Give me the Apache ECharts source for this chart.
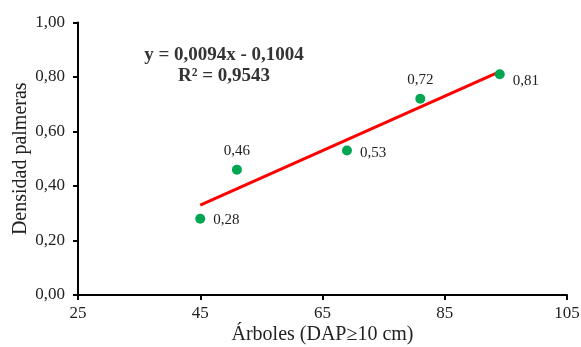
<!DOCTYPE html>
<html><head><meta charset="utf-8">
<script src="https://cdn.jsdelivr.net/npm/echarts@6/dist/echarts.min.js"></script>
<style>html,body{margin:0;padding:0;background:#fff}#c{width:581px;height:347px}</style>
</head><body><div id="c"></div>
<script>
const arboles = [45, 51, 69, 81, 94];
const densidad = [0.28, 0.46, 0.53, 0.72, 0.81];
const labelPos = ['right', 'top', 'right', 'top', 'right'];
const trendX = [45, 94];
const trendY = [0.33, 0.82];
const xTicks = [25, 45, 65, 85, 105];
const yTicks = [0, 0.2, 0.4, 0.6, 0.8, 1.0];
const eqLine1 = 'y = 0,0094x - 0,1004';
const eqLine2 = 'R² = 0,9543';

const font = '"Liberation Serif", "Times New Roman", serif';
const fmt2 = v => v.toFixed(2).replace('.', ',');
const labelOffset = [[0, 1], [0, 2], [0, 2], [0, 2], [0, 7]];

const chart = echarts.init(document.getElementById('c'));
chart.setOption({
  animation: false,
  textStyle: { fontFamily: font },
  grid: { left: 78, right: 14, top: 22.5, bottom: 52, containLabel: false, outerBoundsMode: 'none' },
  xAxis: {
    type: 'value', min: xTicks[0], max: xTicks[xTicks.length - 1], interval: 20,
    name: 'Árboles (DAP≥10 cm)', nameLocation: 'middle', nameGap: 30, nameMoveOverlap: false,
    nameTextStyle: { fontFamily: font, fontSize: 20, color: '#222' },
    axisLine: { lineStyle: { color: '#000', width: 2 } },
    axisTick: { show: true, length: 5, lineStyle: { color: '#000', width: 2 } },
    axisLabel: { fontFamily: font, fontSize: 17, color: '#222', margin: 10 },
    splitLine: { show: false }
  },
  yAxis: {
    type: 'value', min: yTicks[0], max: yTicks[yTicks.length - 1], interval: 0.2,
    name: 'Densidad palmeras', nameLocation: 'middle', nameGap: 47, nameMoveOverlap: false,
    nameTextStyle: { fontFamily: font, fontSize: 20, color: '#222' },
    axisLine: { show: true, lineStyle: { color: '#000', width: 2 } },
    axisTick: { show: true, length: 5, lineStyle: { color: '#000', width: 2 } },
    axisLabel: { fontFamily: font, fontSize: 17, color: '#222', margin: 13, formatter: v => fmt2(v) },
    splitLine: { show: false }
  },
  series: [
    {
      type: 'line', data: trendX.map((x, i) => [x, trendY[i]]),
      symbol: 'none', lineStyle: { color: '#ff0000', width: 3 }, z: 2, silent: true
    },
    {
      type: 'scatter', symbolSize: 10, z: 3,
      itemStyle: { color: '#00a651', opacity: 1 },
      data: arboles.map((x, i) => ({
        value: [x, densidad[i]],
        label: { position: labelPos[i], offset: labelOffset[i] }
      })),
      label: {
        show: true, fontFamily: font, fontSize: 15, color: '#222', distance: 8,
        formatter: p => fmt2(p.value[1])
      }
    }
  ],
  graphic: [
    { type: 'text', x: 224, y: 55, style: { text: eqLine1, font: 'bold 19px ' + font, fill: '#333', align: 'center', verticalAlign: 'middle' } },
    { type: 'text', x: 224, y: 76, style: { text: eqLine2, font: 'bold 19px ' + font, fill: '#333', align: 'center', verticalAlign: 'middle' } }
  ]
});
</script></body></html>
